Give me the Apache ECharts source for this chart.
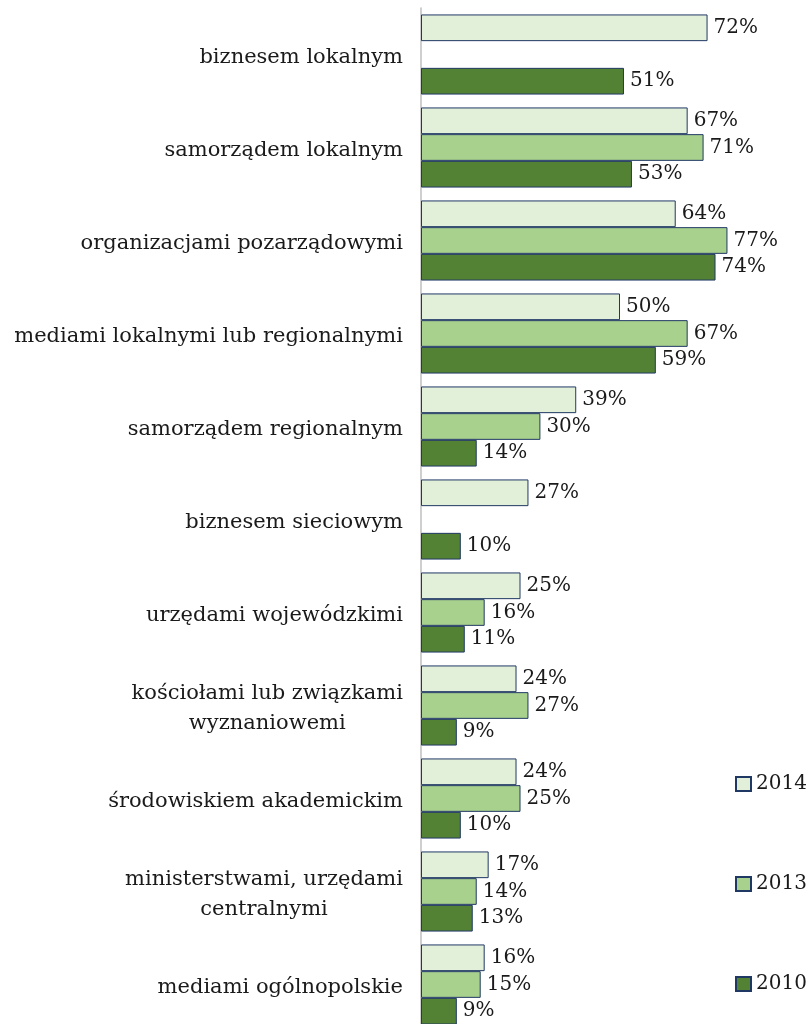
<!DOCTYPE html>
<html>
<head>
<meta charset="utf-8">
<script src="https://cdn.jsdelivr.net/npm/echarts@6/dist/echarts.min.js"></script>
<style>
  html, body { margin: 0; padding: 0; background: #fff; }
  #chart { width: 810px; height: 1024px; }
</style>
</head>
<body>
<div id="chart"></div>
<script>
// kategorie od góry do dołu
var categories = [
  'biznesem lokalnym',
  'samorządem lokalnym',
  'organizacjami pozarządowymi',
  'mediami lokalnymi lub regionalnymi',
  'samorządem regionalnym',
  'biznesem sieciowym',
  'urzędami wojewódzkimi',
  'kościołami lub związkami\nwyznaniowemi',
  'środowiskiem akademickim',
  'ministerstwami, urzędami\ncentralnymi',
  'mediami ogólnopolskie'
]
var years = ['2014', '2013', '2010']
var values2014 = [72, 67, 64, 50, 39, 27, 25, 24, 24, 17, 16]
var values2013 = [null, 71, 77, 67, 30, null, 16, 27, 25, 14, 15]
var values2010 = [51, 53, 74, 59, 14, 10, 11, 9, 10, 13, 9]

var colors = ['#e2efd9', '#a9d18e', '#548235']
var font = 'DejaVu Serif'

function makeSeries(name, data, color) {
  return {
    name: name,
    type: 'bar',
    data: data,
    barWidth: 26.7,
    barGap: '0%',
    itemStyle: { color: color, borderColor: '#203864', borderWidth: 1 },
    label: {
      show: true,
      position: 'right',
      distance: 6,
      formatter: '{c}%',
      fontFamily: font,
      fontSize: 20,
      color: '#1a1a1a'
    }
  }
}

var chart = echarts.init(document.getElementById('chart'))
chart.setOption({
  animation: false,
  grid: { left: 421, top: 8, height: 1023, width: 398, outerBoundsMode: 'none' },
  legend: {
    orient: 'vertical',
    left: 735,
    top: 774,
    padding: 0,
    icon: 'rect',
    itemWidth: 15,
    itemHeight: 14,
    itemGap: 80,
    data: years,
    textStyle: { fontFamily: font, fontSize: 20, color: '#1a1a1a', lineHeight: 20 }
  },
  xAxis: { type: 'value', min: 0, max: 100, show: false },
  yAxis: {
    type: 'category',
    inverse: true,
    data: categories,
    axisLine: { show: true, lineStyle: { color: '#bfbfbf', width: 1.5 } },
    axisTick: { show: false },
    axisLabel: {
      margin: 18,
      padding: [6, 0, 0, 0],
      formatter: function (v) {
        return v.split('\n').map(function (s) { return '{c|' + s + '}' }).join('\n')
      },
      rich: {
        c: { fontFamily: font, fontSize: 21, color: '#1a1a1a', align: 'center', lineHeight: 30 }
      }
    }
  },
  series: [
    makeSeries(years[0], values2014, colors[0]),
    makeSeries(years[1], values2013, colors[1]),
    makeSeries(years[2], values2010, colors[2])
  ]
})
</script>
</body>
</html>
